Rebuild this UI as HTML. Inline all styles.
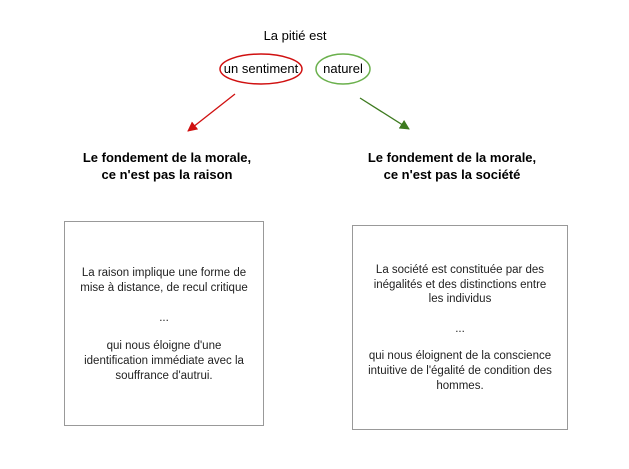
<!DOCTYPE html>
<html><head><meta charset="utf-8"><style>
body{margin:0;width:629px;height:464px;background:#fff;overflow:hidden;font-family:"Liberation Sans",sans-serif}
</style></head><body>
<svg width="629" height="464" xmlns="http://www.w3.org/2000/svg" font-family="Liberation Sans, sans-serif">
<defs>
<marker id="ar" markerWidth="10" markerHeight="10" refX="9" refY="5" orient="auto" markerUnits="userSpaceOnUse"><path d="M0,0 L10,5 L0,10 z" fill="#d01010"/></marker>
<marker id="ag" markerWidth="10" markerHeight="10" refX="9" refY="5" orient="auto" markerUnits="userSpaceOnUse"><path d="M0,0 L10,5 L0,10 z" fill="#3d7a1f"/></marker>
</defs>
<text x="295" y="40" font-size="13" text-anchor="middle">La pitié est</text>
<ellipse cx="261" cy="69" rx="41" ry="15" fill="none" stroke="#d01010" stroke-width="1.5"/>
<ellipse cx="343" cy="69" rx="27" ry="15" fill="none" stroke="#6ab04c" stroke-width="1.5"/>
<text x="261" y="73" font-size="13" text-anchor="middle">un sentiment</text>
<text x="343" y="73" font-size="13" text-anchor="middle">naturel</text>
<line x1="235" y1="94" x2="188" y2="131" stroke="#d01010" stroke-width="1.3" marker-end="url(#ar)"/>
<line x1="360" y1="98" x2="409" y2="129" stroke="#3d7a1f" stroke-width="1.3" marker-end="url(#ag)"/>
<g font-size="13" font-weight="bold" text-anchor="middle">
<text x="167" y="162">Le fondement de la morale,</text>
<text x="167" y="179">ce n'est pas la raison</text>
<text x="452" y="162">Le fondement de la morale,</text>
<text x="452" y="179">ce n'est pas la société</text>
</g>
<rect x="64.5" y="221.5" width="199" height="204" fill="#fff" stroke="#999"/>
<rect x="352.5" y="225.5" width="215" height="204" fill="#fff" stroke="#999"/>
<g font-size="11.5" text-anchor="middle" fill="#222">
<text x="164" y="276">La raison implique une forme de</text>
<text x="164" y="291">mise à distance, de recul critique</text>
<text x="164" y="321">...</text>
<text x="164" y="349">qui nous éloigne d'une</text>
<text x="164" y="364">identification immédiate avec la</text>
<text x="164" y="379">souffrance d'autrui.</text>
<text x="460" y="273">La société est constituée par des</text>
<text x="460" y="288">inégalités et des distinctions entre</text>
<text x="460" y="302">les individus</text>
<text x="460" y="332">...</text>
<text x="460" y="359">qui nous éloignent de la conscience</text>
<text x="460" y="374">intuitive de l'égalité de condition des</text>
<text x="460" y="389">hommes.</text>
</g>
</svg>
</body></html>
